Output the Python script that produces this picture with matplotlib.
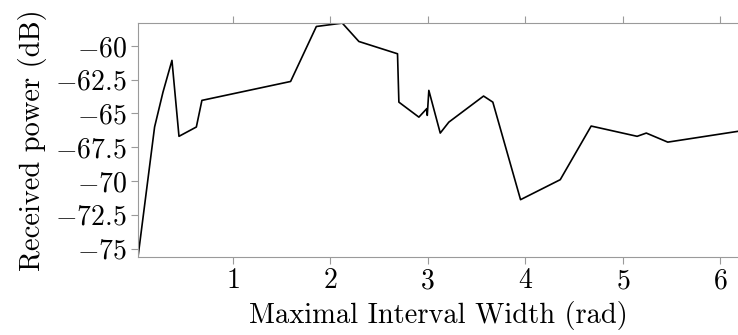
import matplotlib.pyplot as plt
import numpy as np

plt.rcParams["font.family"] = "serif"
plt.rcParams["font.serif"] = ["cmr10"]
plt.rcParams["mathtext.fontset"] = "cm"
plt.rcParams["axes.formatter.use_mathtext"] = True

width = np.array([0.03, 0.20, 0.286, 0.378, 0.45, 0.628, 0.685, 1.594, 1.858, 2.124,
                  2.294, 2.69, 2.704, 2.909, 2.99, 2.995, 3.011, 3.128, 3.216, 3.572,
                  3.667, 3.951, 4.358, 4.675, 5.146, 5.24, 5.46, 6.18])
power = np.array([-75.62, -66.0, -63.42, -61.07, -66.69, -66.0, -64.03, -62.63, -58.56, -58.31,
                  -59.67, -60.58, -64.16, -65.27, -64.64, -65.14, -63.29, -66.45, -65.64, -63.71,
                  -64.16, -71.38, -69.9, -65.93, -66.69, -66.45, -67.12, -66.32])
xticks = [1, 2, 3, 4, 5, 6]
yticks = [-60, -62.5, -65, -67.5, -70, -72.5, -75]

fig = plt.figure(figsize=(7.38, 3.35), dpi=100)
ax = fig.add_axes([0.187, 0.233, 0.813, 0.698])
ax.plot(width, power, color="black", linewidth=1.2)

ax.set_xlim(width.min(), width.max())
ax.set_ylim(power.min(), power.max())
ax.set_xticks(xticks, labels=[f"${t}$" for t in xticks])
ax.set_yticks(yticks, labels=[f"${t:g}$" for t in yticks])

for side in ["left", "top", "bottom"]:
    ax.spines[side].set_color("#9a9a9a")
    ax.spines[side].set_linewidth(0.8)
ax.spines["right"].set_visible(False)
ax.tick_params(direction="out", top=True, length=5, width=0.8, color="#9a9a9a",
               labelsize=20, labelcolor="black", pad=3)

ax.set_xlabel("Maximal Interval Width (rad)", fontsize=20.5, labelpad=5)
ax.set_ylabel("Received power (dB)", fontsize=20.5, labelpad=6)

fig.savefig("out.png", dpi=100)
